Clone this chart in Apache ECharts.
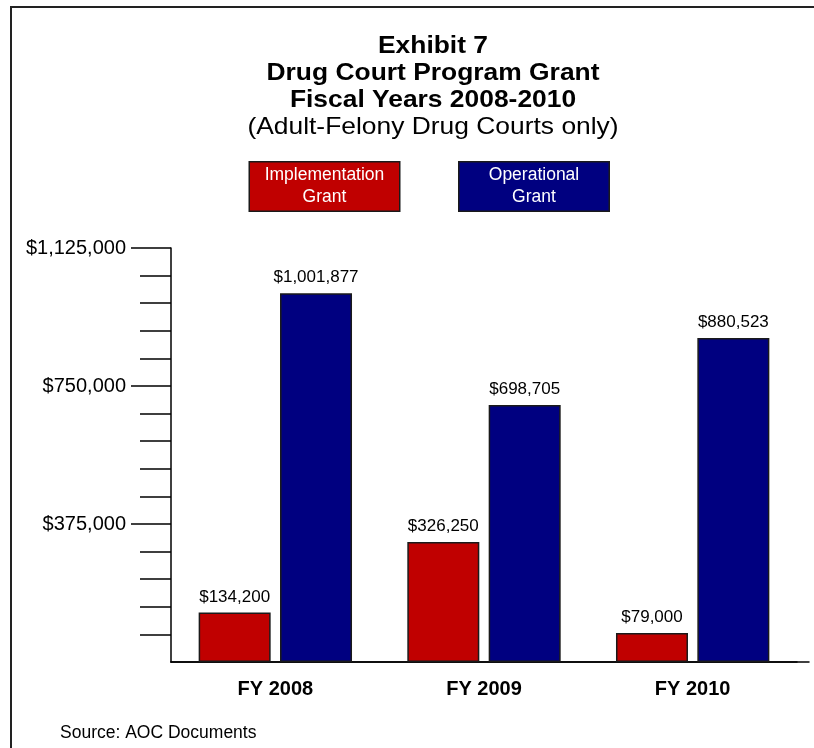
<!DOCTYPE html>
<html>
<head>
<meta charset="utf-8">
<script src="https://cdn.jsdelivr.net/npm/echarts@6/dist/echarts.min.js"></script>
<style>
  html, body { margin: 0; padding: 0; background: #fff; }
  #chart { width: 814px; height: 748px; }
</style>
</head>
<body>
<div id="chart"></div>
<script>
// Fiscal years shown along the x axis
const years = ['FY 2008', 'FY 2009', 'FY 2010'];
// Grant amounts in dollars
const implementationGrant = [134200, 326250, 79000];
const operationalGrant = [1001877, 698705, 880523];
// Labelled y-axis values
const yTickValues = [375000, 750000, 1125000];
// Heading lines (last one is the plain-weight qualifier)
const headingLines = ['Exhibit 7', 'Drug Court Program Grant', 'Fiscal Years 2008-2010', '(Adult-Felony Drug Courts only)'];
const sourceNote = 'Source: AOC Documents';

const FONT = 'Liberation Sans, Arial, sans-serif';
const money = v => '$' + v.toLocaleString('en-US');

const chart = echarts.init(document.getElementById('chart'), null, { renderer: 'canvas' });

// Heading: slightly wide-set type, centred over the chart
const headingGraphics = headingLines.map((line, i) => ({
  type: 'text',
  silent: true,
  x: 433,
  y: 46 + i * 27,
  scaleX: 1.1,
  style: {
    text: line,
    fontFamily: FONT,
    fontSize: 24,
    fontWeight: i < 3 ? 'bold' : 'normal',
    fill: '#000',
    align: 'center',
    verticalAlign: 'middle'
  }
}));

chart.setOption({
  backgroundColor: '#fff',
  animation: false,
  title: {
    text: sourceNote,
    left: 60,
    top: 724,
    padding: 0,
    textStyle: { fontFamily: FONT, fontWeight: 'normal', fontSize: 17.5, color: '#000' }
  },
  legend: {
    left: 245,
    top: 161,
    padding: 0,
    itemWidth: 0,
    itemHeight: 50,
    itemGap: 54,
    icon: 'none',
    selectedMode: false,
    formatter: name => name.split(' ').map(w => '{t|' + w + '}').join('\n'),
    textStyle: {
      fontFamily: FONT,
      fontSize: 17.5,
      lineHeight: 22,
      color: '#fff',
      width: 149,
      padding: [2, 0],
      borderColor: '#1a1a1a',
      borderWidth: 1.5,
      rich: { t: { align: 'center', fontFamily: FONT, fontSize: 17.5, lineHeight: 22, color: '#fff' } }
    },
    data: [
      { name: 'Implementation Grant', textStyle: { backgroundColor: '#C00000' } },
      { name: 'Operational Grant', textStyle: { backgroundColor: '#000080' } }
    ]
  },
  grid: [
    { left: 171, right: 17, top: 248, bottom: 86, containLabel: false },
    // wider frame used only for the full-length baseline
    { left: 171, right: 5, top: 248, bottom: 86, containLabel: false }
  ],
  xAxis: [{
    type: 'category',
    gridIndex: 0,
    data: years,
    axisLine: { lineStyle: { color: '#000', width: 1.5 } },
    axisTick: { show: false },
    axisLabel: { fontFamily: FONT, fontWeight: 'bold', fontSize: 20, color: '#000', margin: 17 }
  }, {
    type: 'category',
    gridIndex: 1,
    data: years,
    axisLine: { lineStyle: { color: '#000', width: 1.5 } },
    axisTick: { show: false },
    axisLabel: { show: false }
  }],
  yAxis: [{
    type: 'value',
    gridIndex: 0,
    min: 0,
    max: 1125000,
    interval: 375000,
    axisLine: { show: true, lineStyle: { color: '#000', width: 1.5 } },
    axisTick: { show: true, length: 40, customValues: yTickValues, lineStyle: { color: '#000', width: 1.5 } },
    minorTick: { show: true, splitNumber: 5, length: 31, lineStyle: { color: '#000', width: 1.5 } },
    splitLine: { show: false },
    axisLabel: {
      customValues: yTickValues,
      formatter: money,
      fontFamily: FONT,
      fontSize: 20,
      color: '#000',
      margin: 45
    }
  }, {
    type: 'value',
    gridIndex: 1,
    min: 0,
    max: 1125000,
    show: false
  }],
  series: [{
    name: 'Implementation Grant',
    type: 'bar',
    data: implementationGrant,
    barWidth: 72,
    barGap: '13%',
    itemStyle: { color: '#C00000', borderColor: '#1a1a1a', borderWidth: 1.5 },
    label: { show: true, position: 'top', distance: 7, formatter: p => money(p.value), fontFamily: FONT, fontSize: 17, color: '#000' }
  }, {
    name: 'Operational Grant',
    type: 'bar',
    data: operationalGrant,
    barWidth: 72,
    barGap: '13%',
    itemStyle: { color: '#000080', borderColor: '#1a1a1a', borderWidth: 1.5 },
    label: { show: true, position: 'top', distance: 7, formatter: p => money(p.value), fontFamily: FONT, fontSize: 17, color: '#000' }
  }],
  graphic: [{
    type: 'rect',
    silent: true,
    shape: { x: 11, y: 7, width: 900, height: 900 },
    style: { fill: 'none', stroke: '#222', lineWidth: 2 }
  }].concat(headingGraphics)
});
</script>
</body>
</html>
